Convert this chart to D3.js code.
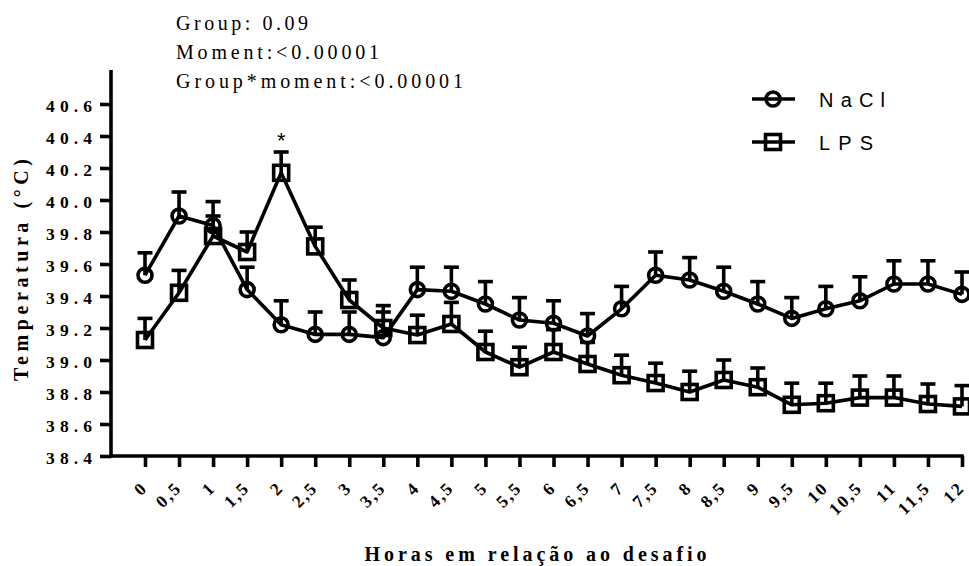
<!DOCTYPE html>
<html>
<head>
<meta charset="utf-8">
<script src="https://cdn.jsdelivr.net/npm/d3@7/dist/d3.min.js"></script>
<style>
  html, body { margin: 0; padding: 0; background: #fff; }
  svg { display: block; }
</style>
</head>
<body>
<svg id="chart" width="969" height="566"></svg>
<script>
// ---- data ----
const hours = [0,0.5,1,1.5,2,2.5,3,3.5,4,4.5,5,5.5,6,6.5,7,7.5,8,8.5,9,9.5,10,10.5,11,11.5,12];
const naclMean = [39.53,39.90,39.84,39.44,39.22,39.16,39.16,39.14,39.44,39.43,39.35,39.25,39.23,39.15,39.32,39.53,39.50,39.43,39.35,39.26,39.32,39.37,39.475,39.475,39.41];
const naclUpper = [39.67,40.05,39.99,39.58,39.37,39.30,39.30,39.34,39.58,39.58,39.49,39.39,39.37,39.29,39.46,39.675,39.64,39.58,39.49,39.39,39.46,39.52,39.62,39.62,39.55];
const lpsMean = [39.125,39.42,39.775,39.675,40.17,39.71,39.375,39.20,39.156,39.225,39.05,38.955,39.05,38.975,38.905,38.856,38.80,38.875,38.83,38.72,38.73,38.765,38.765,38.725,38.71];
const lpsUpper = [39.26,39.56,39.90,39.80,40.30,39.83,39.50,39.30,39.28,39.36,39.18,39.08,39.19,39.11,39.03,38.98,38.93,39.00,38.95,38.855,38.855,38.90,38.90,38.85,38.84];
const yTicks = [38.4,38.6,38.8,39.0,39.2,39.4,39.6,39.8,40.0,40.2,40.4,40.6];
const xTicks = hours;
const seriesNames = ["NaCl", "LPS"];
const statsLines = ["Group: 0.09", "Moment:<0.00001", "Group*moment:<0.00001"];
const xTitle = "Horas em relação ao desafio";
const yTitle = "Temperatura (°C)";
const sigHours = [2];

// ---- layout ----
const svg = d3.select("#chart");
const x = d3.scaleLinear().domain([0, 12]).range([145, 962]);
const y = d3.scaleLinear().domain([38.4, 40.6]).range([456, 104]);
const axisX0 = 111;
const axisTopY = 70;
const serif = "'Liberation Serif', 'Times New Roman', serif";
const sans = "'Liberation Sans', Arial, sans-serif";
const SW = 3.6;

// axes lines
svg.append("line").attr("x1", axisX0).attr("x2", axisX0)
  .attr("y1", axisTopY).attr("y2", y(38.4) + SW/2)
  .attr("stroke", "#000").attr("stroke-width", SW);
svg.append("line").attr("x1", axisX0 - SW/2).attr("x2", x(12) + SW/2)
  .attr("y1", y(38.4)).attr("y2", y(38.4))
  .attr("stroke", "#000").attr("stroke-width", SW);

// y axis ticks / labels
const gy = svg.append("g").attr("transform", `translate(${axisX0},0)`)
  .call(d3.axisLeft(y).tickValues(yTicks).tickSize(11).tickSizeOuter(0).tickFormat(d3.format(".1f")));
gy.select(".domain").remove();
gy.selectAll(".tick line").attr("stroke", "#000").attr("stroke-width", SW);
gy.selectAll(".tick text")
  .attr("x", -19).attr("dy", "0.72em").attr("y", -5)
  .attr("font-family", serif).attr("font-weight", "bold").attr("font-size", 17.5)
  .attr("fill", "#000")
  .attr("textLength", 46).attr("lengthAdjust", "spacing");

// x axis ticks / labels
const gx = svg.append("g").attr("transform", `translate(0,${y(38.4)})`)
  .call(d3.axisBottom(x).tickValues(xTicks).tickSize(11).tickSizeOuter(0)
    .tickFormat(d => String(d).replace(".", ",")));
gx.select(".domain").remove();
gx.selectAll(".tick line").attr("stroke", "#000").attr("stroke-width", SW);
gx.selectAll(".tick text")
  .attr("font-family", serif).attr("font-weight", "bold").attr("font-size", 17.5)
  .attr("fill", "#000")
  .attr("text-anchor", "end")
  .attr("dy", null).attr("y", null)
  .style("letter-spacing", "2px")
  .attr("transform", "translate(3,33) rotate(-45)");

// titles
svg.append("text").attr("x", (axisX0 + x(12)) / 2 - 1).attr("y", 561)
  .attr("text-anchor", "middle")
  .attr("font-family", serif).attr("font-weight", "bold").attr("font-size", 20)
  .attr("textLength", 342).attr("lengthAdjust", "spacing")
  .text(xTitle);
svg.append("text").attr("transform", "translate(28,270) rotate(-90)")
  .attr("text-anchor", "middle")
  .attr("font-family", serif).attr("font-weight", "bold").attr("font-size", 20)
  .attr("textLength", 222).attr("lengthAdjust", "spacing")
  .text(yTitle);

// stats annotations
const statLens = [132, 203, 287];
svg.selectAll("text.stat").data(statsLines).join("text").attr("class", "stat")
  .attr("x", 176).attr("y", (d, i) => 30 + i * 29)
  .attr("font-family", serif).attr("font-size", 20)
  .attr("textLength", (d, i) => statLens[i]).attr("lengthAdjust", "spacing")
  .text(d => d);

// series
const nacl = hours.map((h, i) => ({h, m: naclMean[i], u: naclUpper[i]}));
const lps = hours.map((h, i) => ({h, m: lpsMean[i], u: lpsUpper[i]}));
const line = d3.line().x(d => x(d.h)).y(d => y(d.m));
[nacl, lps].forEach(s => {
  svg.append("path").datum(s).attr("d", line)
    .attr("fill", "none").attr("stroke", "#000").attr("stroke-width", SW)
    .attr("stroke-linejoin", "round");
});
// error bars
[nacl, lps].forEach(s => {
  const g = svg.append("g").attr("stroke", "#000").attr("stroke-width", SW);
  g.selectAll("line.v").data(s).join("line")
    .attr("x1", d => x(d.h)).attr("x2", d => x(d.h))
    .attr("y1", d => y(d.m)).attr("y2", d => y(d.u));
  g.selectAll("line.c").data(s).join("line")
    .attr("x1", d => x(d.h) - 7.5).attr("x2", d => x(d.h) + 7.5)
    .attr("y1", d => y(d.u)).attr("y2", d => y(d.u));
});
// markers
svg.append("g").selectAll("circle").data(nacl).join("circle")
  .attr("cx", d => x(d.h)).attr("cy", d => y(d.m)).attr("r", 7)
  .attr("fill", "none").attr("stroke", "#000").attr("stroke-width", SW);
svg.append("g").selectAll("rect").data(lps).join("rect")
  .attr("x", d => x(d.h) - 7.5).attr("y", d => y(d.m) - 7.5)
  .attr("width", 15).attr("height", 15)
  .attr("fill", "none").attr("stroke", "#000").attr("stroke-width", SW);

// significance asterisk
svg.selectAll("text.sig").data(sigHours).join("text").attr("class", "sig")
  .attr("x", d => x(d)).attr("y", d => y(lpsUpper[hours.indexOf(d)]) - 4)
  .attr("text-anchor", "middle")
  .attr("font-family", sans).attr("font-size", 22)
  .text("*");

// legend
const legY = [99, 142];
const legLens = [66, 54];
seriesNames.forEach((name, i) => {
  const g = svg.append("g");
  g.append("line").attr("x1", 752).attr("x2", 795).attr("y1", legY[i]).attr("y2", legY[i])
    .attr("stroke", "#000").attr("stroke-width", SW);
  if (i === 0) {
    g.append("circle").attr("cx", 773).attr("cy", legY[i]).attr("r", 7)
      .attr("fill", "none").attr("stroke", "#000").attr("stroke-width", SW);
  } else {
    g.append("rect").attr("x", 773 - 7.5).attr("y", legY[i] - 7.5).attr("width", 15).attr("height", 15)
      .attr("fill", "none").attr("stroke", "#000").attr("stroke-width", SW);
  }
  g.append("text").attr("x", 819).attr("y", legY[i] + 8)
    .attr("font-family", sans).attr("font-size", 20)
    .attr("textLength", legLens[i]).attr("lengthAdjust", "spacing")
    .text(name);
});
</script>
</body>
</html>
